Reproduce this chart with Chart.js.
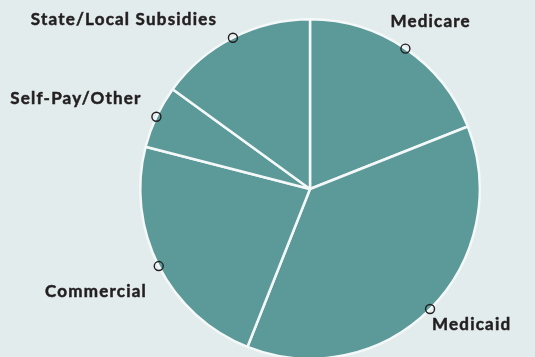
<!DOCTYPE html>
<html>
<head>
<meta charset="utf-8">
<script src="https://cdn.jsdelivr.net/npm/chart.js@4.4.1/dist/chart.umd.min.js"></script>
<style>
  html, body { margin: 0; padding: 0; background: #e2ecec; overflow: hidden; }
  #wrap { width: 535px; height: 360px; position: relative; }
</style>
</head>
<body>
<div id="wrap"><canvas id="payerChart"></canvas></div>
<script>
// Payer mix (share of revenue, %)
const categorias = ['Medicare', 'Medicaid', 'Commercial', 'Self-Pay/Other', 'State/Local Subsidies'];
const valores = [19, 37, 23, 6, 15];

// label placement relative to the marker on the rim: [dx, dy, align]
const posRotulos = [
    [-15, -27, 'left'],
    [2, 15, 'left'],
    [-13, 25, 'right'],
    [-16, -18, 'right'],
    [-17, -18, 'right']
];

const COR_FATIA = '#5b9a98';
const COR_TEXTO = '#231f20';

// =========================================
// Marcadores e rótulos à volta da tarte
// =========================================
const rotulosPlugin = {
    id: 'rotulosFatias',
    afterDatasetsDraw(chart) {
        const ctx = chart.ctx;
        const arcos = chart.getDatasetMeta(0).data;
        ctx.save();
        arcos.forEach((arco, i) => {
            const meio = (arco.startAngle + arco.endAngle) / 2;
            const r = arco.outerRadius;
            const px = arco.x + Math.cos(meio) * r;
            const py = arco.y + Math.sin(meio) * r;

            // pequeno círculo sobre o rebordo
            ctx.beginPath();
            ctx.arc(px, py, 4.5, 0, Math.PI * 2);
            ctx.lineWidth = 1.4;
            ctx.strokeStyle = COR_TEXTO;
            ctx.stroke();

            const [dx, dy, alinhar] = posRotulos[i];
            ctx.font = 'bold 17px Lato';
            ctx.letterSpacing = '1.2px';
            ctx.fillStyle = COR_TEXTO;
            ctx.textAlign = alinhar;
            ctx.textBaseline = 'middle';
            // com alinhamento à direita o espaçamento extra fica no fim
            const ajuste = alinhar === 'right' ? 1.2 : 0;
            const tx = px + dx + ajuste;
            const ty = py + dy;
            ctx.fillText(categorias[i], tx, ty);
            // traço fino para engrossar um pouco as letras
            ctx.lineWidth = 0.5;
            ctx.strokeText(categorias[i], tx, ty);
        });
        ctx.restore();
    }
};

const ctx = document.getElementById('payerChart').getContext('2d');

const payerChart = new Chart(ctx, {
    type: 'pie',
    data: {
        labels: categorias,
        datasets: [{
            data: valores,
            backgroundColor: COR_FATIA,
            borderColor: '#f4f8f8',
            borderWidth: 2.5,
            hoverOffset: 0
        }]
    },
    options: {
        responsive: true,
        maintainAspectRatio: false,
        animation: false,
        layout: { padding: { top: 18, bottom: 0, left: 100, right: 15 } },
        plugins: {
            legend: { display: false },
            tooltip: { enabled: false }
        }
    },
    plugins: [rotulosPlugin]
});
</script>
</body>
</html>
